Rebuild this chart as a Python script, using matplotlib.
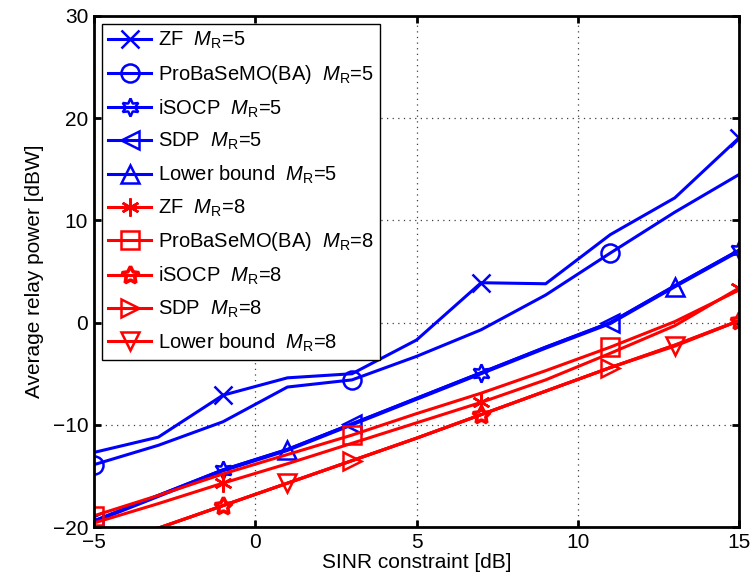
import matplotlib
matplotlib.use("Agg")
import matplotlib.pyplot as plt

plt.rcParams['font.family'] = ['Liberation Sans', 'DejaVu Sans']
plt.rcParams['mathtext.fontset'] = 'custom'
plt.rcParams['mathtext.rm'] = 'Liberation Sans'
plt.rcParams['mathtext.it'] = 'Liberation Sans:italic'
plt.rcParams['axes.unicode_minus'] = True

# SINR constraint [dB]
sinr = [-5, -3, -1, 1, 3, 5, 7, 9, 11, 13, 15]

# Average relay power [dBW], M_R = 5
zf_5 = [-12.7, -11.2, -7.1, -5.4, -5.0, -1.7, 3.9, 3.8, 8.6, 12.2, 18.1]
probasemo_5 = [-13.9, -12.0, -9.7, -6.3, -5.6, -3.3, -0.7, 2.7, 6.8, 10.8, 14.5]
isocp_5 = [-19.4, -16.9, -14.4, -12.4, -9.9, -7.4, -4.9, -2.4, 0.0, 3.6, 7.1]
sdp_5 = [-19.4, -16.9, -14.4, -12.4, -9.9, -7.4, -4.9, -2.4, 0.0, 3.6, 7.1]
lower_5 = [-19.5, -17.0, -14.5, -12.5, -10.0, -7.5, -5.0, -2.5, -0.1, 3.5, 7.0]

# Average relay power [dBW], M_R = 8
zf_8 = [-19.6, -17.7, -15.7, -13.8, -11.8, -9.8, -7.8, -5.6, -3.0, -0.3, 3.4]
probasemo_8 = [-18.9, -16.9, -14.8, -12.9, -11.0, -8.9, -6.9, -4.7, -2.4, 0.1, 3.2]
isocp_8 = [-22.3, -20.1, -17.9, -15.7, -13.5, -11.3, -9.0, -6.7, -4.4, -2.2, 0.2]
sdp_8 = [-22.3, -20.1, -17.9, -15.7, -13.5, -11.3, -9.0, -6.7, -4.4, -2.2, 0.2]
lower_8 = [-22.3, -20.1, -17.9, -15.7, -13.5, -11.3, -9.0, -6.7, -4.4, -2.3, 0.2]

xticks = [-5, 0, 5, 10, 15]
yticks = [-20, -10, 0, 10, 20, 30]

MR = r'$M_{\mathrm{R}}$'
series = [
    (zf_5, 'ZF  ' + MR + '=5', 'b', 'x', (2, 4)),
    (probasemo_5, 'ProBaSeMO(BA)  ' + MR + '=5', 'b', 'o', (0, 4)),
    (isocp_5, 'iSOCP  ' + MR + '=5', 'b', (6, 1, 0), (2, 4)),
    (sdp_5, 'SDP  ' + MR + '=5', 'b', '<', (0, 4)),
    (lower_5, 'Lower bound  ' + MR + '=5', 'b', '^', (3, 6)),
    (zf_8, 'ZF  ' + MR + '=8', 'r', (6, 2, 0), (2, 4)),
    (probasemo_8, 'ProBaSeMO(BA)  ' + MR + '=8', 'r', 's', (0, 4)),
    (isocp_8, 'iSOCP  ' + MR + '=8', 'r', (5, 1, 0), (2, 4)),
    (sdp_8, 'SDP  ' + MR + '=8', 'r', '>', (0, 4)),
    (lower_8, 'Lower bound  ' + MR + '=8', 'r', 'v', (3, 6)),
]

fig = plt.figure(figsize=(7.56, 5.87), dpi=100)
ax = fig.add_axes([0.124, 0.102, 0.854, 0.871])

for vals, label, color, marker, every in series:
    mew = 2.6 if marker == (5, 1, 0) else 1.8
    ax.plot(sinr, vals, color=color, lw=2.2, marker=marker, markevery=every,
            markersize=13, markerfacecolor='none', markeredgecolor=color,
            markeredgewidth=mew, label=label)

ax.set_xlim(-5, 15)
ax.set_ylim(-20, 30)
ax.set_xticks(xticks)
ax.set_yticks(yticks)
ax.grid(True, color='0.25', linestyle=(0, (1, 3.5)), linewidth=0.9)
ax.tick_params(direction='in', length=5, width=2, labelsize=15,
               top=True, right=True, pad=4)
for s in ax.spines.values():
    s.set_linewidth(2)

ax.set_xlabel('SINR constraint [dB]', fontsize=15, labelpad=1)
ax.set_ylabel('Average relay power [dBW]', fontsize=15, labelpad=6)

leg = ax.legend(loc='upper left', bbox_to_anchor=(0.013, 0.984),
                borderaxespad=0, fontsize=14.5, handlelength=2.15,
                handletextpad=0.3, labelspacing=0.57, borderpad=0.3,
                fancybox=False, framealpha=1, edgecolor='k')
leg.get_frame().set_linewidth(1.0)

fig.savefig('out.png', dpi=100)
